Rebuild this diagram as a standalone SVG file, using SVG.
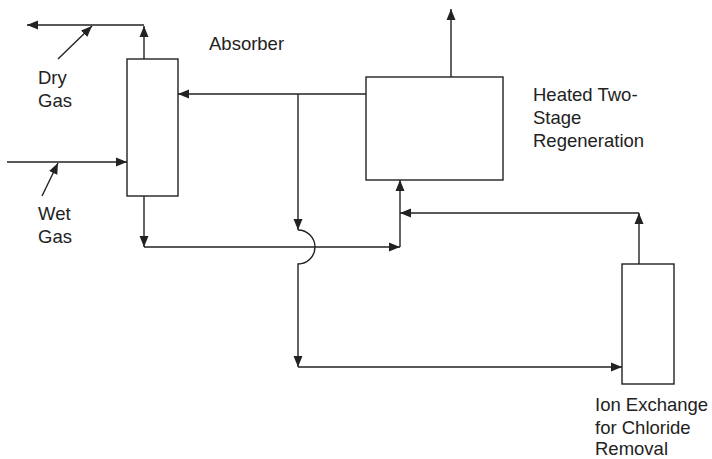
<svg xmlns="http://www.w3.org/2000/svg" width="712" height="459" viewBox="0 0 712 459">
<style>
.box{fill:#fff;stroke:#222;stroke-width:1.4}
.ln{fill:none;stroke:#222;stroke-width:1.4}
.arr{marker-end:url(#ah)}
text{font-family:"Liberation Sans",Arial,sans-serif;font-size:18.5px;fill:#222}
</style>
<defs>
<marker id="ah" markerUnits="userSpaceOnUse" markerWidth="12" markerHeight="10" refX="11" refY="5" orient="auto">
<path d="M0,0.5 L11,5 L0,9.5 z" fill="#222"/>
</marker>
</defs>
<rect width="712" height="459" fill="#fff"/>
<g id="connectors">
<path class="ln arr" d="M144,59 V26"/>
<path class="ln arr" d="M144,25 H27"/>
<path class="ln arr" d="M58,59 L92,26"/>
<path class="ln arr" d="M7,162 H127"/>
<path class="ln arr" d="M42,196 L58,163"/>
<path class="ln arr" d="M366,94 H178"/>
<path class="ln arr" d="M298,94 V230"/>
<path class="ln arr" d="M298,230 A17,17 0 0 1 298,264 V367"/>
<path class="ln arr" d="M298,367 H622"/>
<path class="ln arr" d="M144,196 V247"/>
<path class="ln arr" d="M144,247 H400"/>
<path class="ln arr" d="M400,247 V180"/>
<path class="ln arr" d="M639,264 V213"/>
<path class="ln arr" d="M639,213 H400"/>
<path class="ln arr" d="M451,77 V9"/>
</g>
<g id="absorber">
<rect class="box" x="127" y="59" width="51" height="137"/>
<text x="209" y="50">Absorber</text>
</g>
<g id="regenerator">
<rect class="box" x="366" y="77" width="137" height="103"/>
<text x="533" y="101">Heated Two-</text>
<text x="533" y="124">Stage</text>
<text x="533" y="147">Regeneration</text>
</g>
<g id="ion-exchange">
<rect class="box" x="622" y="264" width="52" height="120"/>
<text x="595" y="411">Ion Exchange</text>
<text x="595" y="433.5">for Chloride</text>
<text x="595" y="455">Removal</text>
</g>
<g id="dry-gas">
<text x="38" y="84">Dry</text>
<text x="38" y="106.5">Gas</text>
</g>
<g id="wet-gas">
<text x="38" y="220">Wet</text>
<text x="38" y="242.5">Gas</text>
</g>
</svg>
